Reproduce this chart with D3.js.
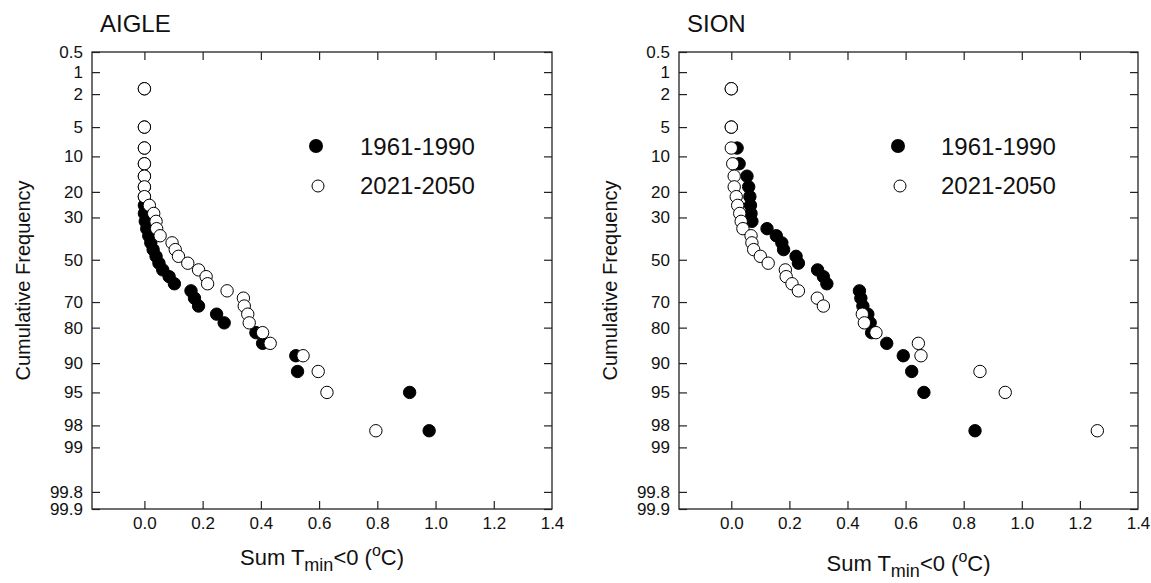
<!DOCTYPE html>
<html lang="en">
<head>
<meta charset="UTF-8">
<title>Cumulative frequency of Sum Tmin&lt;0 - Aigle and Sion</title>
<script src="https://d3js.org/d3.v7.min.js"></script>
<style>
    body { margin: 0; background: #fff; }
    svg { display: block; font-family: "Liberation Sans", Arial, sans-serif; }
    .tick text { fill: #111; }
</style>
</head>
<body>
<svg id="chart" width="1151" height="583"></svg>
<script>
// cumulative frequency (%) of each ranked year
const cumFreq = [1.7, 5, 8.3, 11.7, 15, 18.3, 21.7, 25, 28.3, 31.7, 35, 38.3, 41.7, 45, 48.3,
                 51.7, 55, 58.3, 61.7, 65, 68.3, 71.7, 75, 78.3, 81.7, 85, 88.3, 91.7, 95, 98.3];

// Sum Tmin<0 (degC), ranked
const aigle1961 = [0, 0, 0, 0, 0, 0, 0, 0, 0, 0.003, 0.008, 0.015, 0.022, 0.03, 0.04,
                   0.05, 0.063, 0.085, 0.103, 0.16, 0.172, 0.186, 0.248, 0.274, 0.383,
                   0.406, 0.52, 0.526, 0.911, 0.978];
const aigle2021 = [0, 0, 0, 0, 0, 0, 0, 0.017, 0.032, 0.04, 0.042, 0.054, 0.095, 0.106, 0.117,
                   0.149, 0.186, 0.212, 0.217, 0.284, 0.34, 0.343, 0.355, 0.36, 0.406,
                   0.432, 0.545, 0.597, 0.627, 0.795];
const sion1961 = [0, 0, 0.02, 0.027, 0.054, 0.06, 0.064, 0.066, 0.068, 0.071, 0.123, 0.155,
                  0.174, 0.18, 0.223, 0.231, 0.297, 0.317, 0.329, 0.441, 0.446, 0.453,
                  0.47, 0.478, 0.483, 0.535, 0.592, 0.621, 0.663, 0.839];
const sion2021 = [0, 0, 0, 0.005, 0.01, 0.01, 0.017, 0.022, 0.029, 0.034, 0.04, 0.068, 0.071,
                  0.077, 0.1, 0.127, 0.186, 0.189, 0.209, 0.231, 0.296, 0.317, 0.451, 0.458,
                  0.498, 0.644, 0.653, 0.856, 0.943, 1.26];

const seriesNames = ["1961-1990", "2021-2050"];
const xTicks = [0, 0.2, 0.4, 0.6, 0.8, 1.0, 1.2, 1.4];
const yTicks = [0.5, 1, 2, 5, 10, 20, 30, 50, 70, 80, 90, 95, 98, 99, 99.8, 99.9];

// inverse normal CDF (Acklam) for the probability axis
function probit(p) {
    const a = [-39.69683028665376, 220.9460984245205, -275.9285104469687, 138.3577518672690, -30.66479806614716, 2.506628277459239];
    const b = [-54.47609879822406, 161.5858368580409, -155.6989798598866, 66.80131188771972, -13.28068155288572];
    const c = [-0.007784894002430293, -0.3223964580411365, -2.400758277161838, -2.549732539343734, 4.374664141464968, 2.938163982698783];
    const d = [0.007784695709041462, 0.3224671290700398, 2.445134137142996, 3.754408661907416];
    const lo = 0.02425;
    let q, r;
    if (p < lo) {
        q = Math.sqrt(-2 * Math.log(p));
        return (((((c[0]*q+c[1])*q+c[2])*q+c[3])*q+c[4])*q+c[5]) / ((((d[0]*q+d[1])*q+d[2])*q+d[3])*q+1);
    }
    if (p > 1 - lo) {
        q = Math.sqrt(-2 * Math.log(1 - p));
        return -(((((c[0]*q+c[1])*q+c[2])*q+c[3])*q+c[4])*q+c[5]) / ((((d[0]*q+d[1])*q+d[2])*q+d[3])*q+1);
    }
    q = p - 0.5; r = q * q;
    return (((((a[0]*r+a[1])*r+a[2])*r+a[3])*r+a[4])*r+a[5])*q / (((((b[0]*r+b[1])*r+b[2])*r+b[3])*r+b[4])*r+1);
}

const svg = d3.select("#chart");
const plotTop = 52, plotBottom = 509, tick = 8;

function drawPanel(cfg) {
    const x = d3.scaleLinear().domain([-0.18, 1.4]).range([cfg.left, cfg.right]);
    const z = d3.scaleLinear().domain([probit(0.005), probit(0.999)]).range([plotTop, plotBottom]);
    const yPos = p => z(probit(p / 100));
    const g = svg.append("g");

    // axes, ticks pointing inward
    const bx = g.append("g").attr("transform", `translate(0,${plotBottom})`)
        .call(d3.axisBottom(x).tickValues(xTicks).tickFormat(d3.format(".1f"))
            .tickSizeInner(-tick).tickSizeOuter(0).tickPadding(8));
    const tx = g.append("g").attr("transform", `translate(0,${plotTop})`)
        .call(d3.axisTop(x).tickValues(xTicks).tickFormat("")
            .tickSizeInner(-tick).tickSizeOuter(0));
    const ly = g.append("g").attr("transform", `translate(${cfg.left},0)`)
        .call(d3.axisLeft(z).tickValues(yTicks.map(p => probit(p / 100)))
            .tickFormat((d, i) => yTicks[i]).tickSizeInner(-tick).tickSizeOuter(0).tickPadding(9));
    const ry = g.append("g").attr("transform", `translate(${cfg.right},0)`)
        .call(d3.axisRight(z).tickValues(yTicks.map(p => probit(p / 100)))
            .tickFormat("").tickSizeInner(-tick).tickSizeOuter(0));

    [bx, tx, ly, ry].forEach(a => {
        a.select(".domain").remove();
        a.selectAll("line").attr("stroke", "#222").attr("stroke-width", 1.2);
        a.selectAll("text").style("font-size", "17px");
    });
    // drop end ticks sitting on the frame corners
    bx.selectAll(".tick").filter(d => d === 1.4).select("line").remove();
    tx.selectAll(".tick").filter(d => d === 1.4).select("line").remove();

    g.append("rect")
        .attr("x", cfg.left).attr("y", plotTop)
        .attr("width", cfg.right - cfg.left).attr("height", plotBottom - plotTop)
        .attr("fill", "none").attr("stroke", "#222").attr("stroke-width", 1.3);

    // points: 1961-1990 filled below, 2021-2050 open on top
    g.append("g").selectAll("circle").data(cfg.past).join("circle")
        .attr("cx", d => x(d)).attr("cy", (d, i) => yPos(cumFreq[i]))
        .attr("r", 6.2).attr("fill", "#000").attr("stroke", "#000").attr("stroke-width", 1);
    g.append("g").selectAll("circle").data(cfg.future).join("circle")
        .attr("cx", d => x(d)).attr("cy", (d, i) => yPos(cumFreq[i]))
        .attr("r", 6.2).attr("fill", "#fff").attr("stroke", "#000").attr("stroke-width", 1);

    // legend
    const lg = g.append("g");
    lg.append("circle").attr("cx", cfg.legX).attr("cy", 146).attr("r", 7)
        .attr("fill", "#000");
    lg.append("circle").attr("cx", cfg.legX + 2).attr("cy", 186).attr("r", 6)
        .attr("fill", "#fff").attr("stroke", "#000").attr("stroke-width", 1);
    lg.selectAll("text").data(seriesNames).join("text")
        .attr("x", cfg.legTextX).attr("y", (d, i) => 155 + i * 39)
        .style("font-size", "24px").attr("fill", "#111").text(d => d);

    // station title
    g.append("text").attr("x", cfg.left + 8).attr("y", 32)
        .style("font-size", "24px").attr("fill", "#111").text(cfg.title);

    // y title
    g.append("text")
        .attr("transform", `translate(${cfg.left - 62},${(plotTop + plotBottom) / 2}) rotate(-90)`)
        .attr("text-anchor", "middle").style("font-size", "20px").attr("fill", "#111")
        .text("Cumulative Frequency");

    // x title with subscript and superscript
    const xt = g.append("text")
        .attr("x", (cfg.left + cfg.right) / 2).attr("y", cfg.xTitleY)
        .attr("text-anchor", "middle").style("font-size", "22px").attr("fill", "#111");
    xt.append("tspan").text("Sum T");
    xt.append("tspan").attr("dy", 6).style("font-size", "18px").text("min");
    xt.append("tspan").attr("dy", -6).text("<0 (");
    xt.append("tspan").attr("dy", -9).style("font-size", "16px").text("o");
    xt.append("tspan").attr("dy", 9).text("C)");
}

drawPanel({ title: "AIGLE", left: 92, right: 552, past: aigle1961, future: aigle2021,
            legX: 316, legTextX: 360, xTitleY: 565 });
drawPanel({ title: "SION", left: 679, right: 1138, past: sion1961, future: sion2021,
            legX: 898, legTextX: 941, xTitleY: 571 });
</script>
</body>
</html>
